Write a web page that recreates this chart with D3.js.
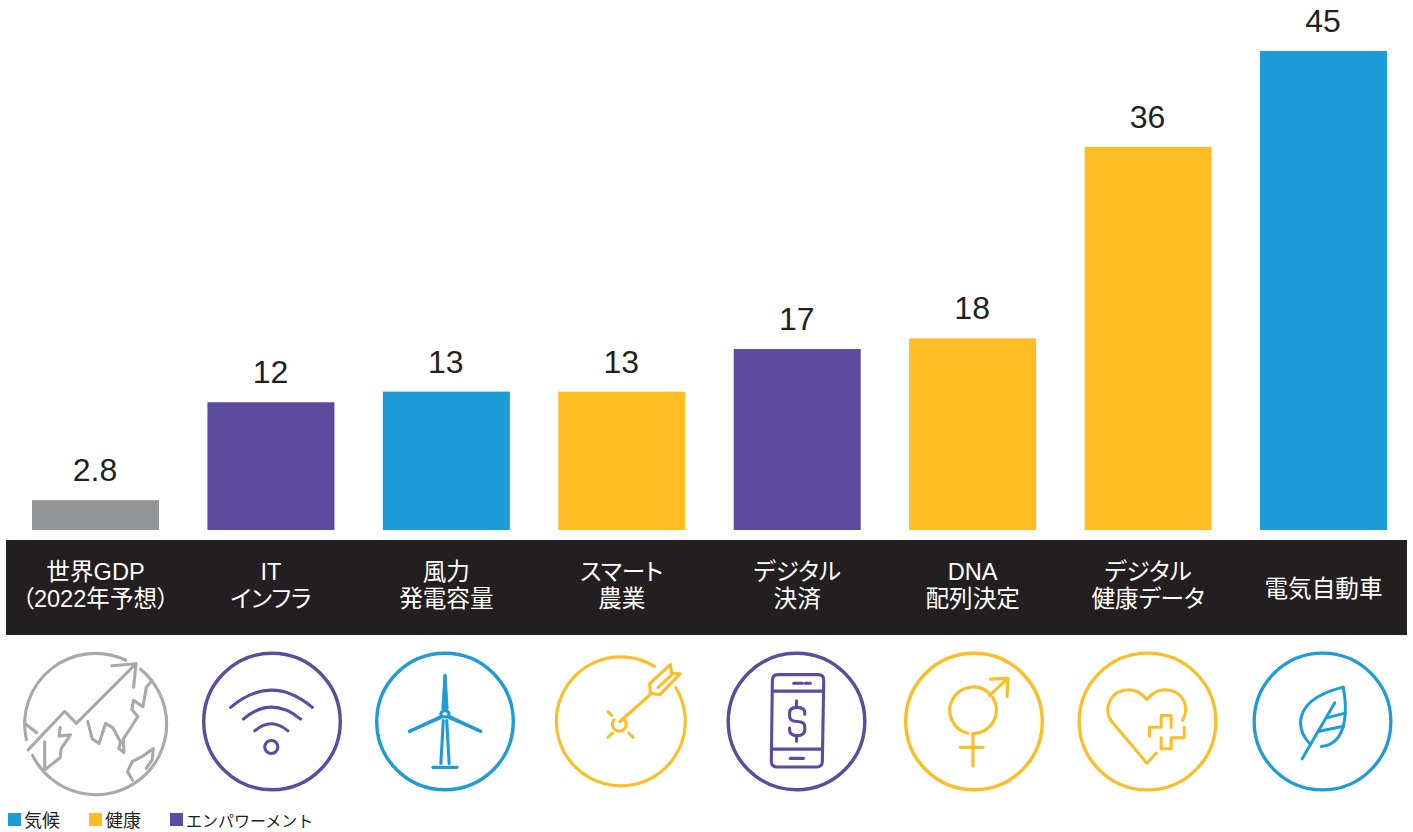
<!DOCTYPE html>
<html><head><meta charset="utf-8">
<script src="https://cdn.jsdelivr.net/npm/d3@7/dist/d3.min.js"></script>
<style>html,body{margin:0;padding:0;background:#fff}svg{display:block}
text{font-family:"Liberation Sans","Noto Sans CJK JP",sans-serif}
.lab{font-feature-settings:"palt"}</style></head>
<body><div id="chart"></div>
<script>
const categories=["世界GDP|（2022年予想）","IT|インフラ","風力|発電容量","スマート|農業","デジタル|決済","DNA|配列決定","デジタル|健康データ","電気自動車"];
const values=[2.8,12,13,13,17,18,36,45];
const valueLabels=["2.8","12","13","13","17","18","36","45"];
const groups=["gdp","emp","climate","health","emp","health","health","climate"];
const legendNames=["気候","健康","エンパワーメント"];
const legendKeys=["climate","health","emp"];
const colors={gdp:"#939598",climate:"#1e9cd7",health:"#fdbe25",emp:"#5b4ca0"};
const iconColors={gdp:"#a7a9ac",climate:"#1e9cd7",health:"#fdbe25",emp:"#5b4ca0"};

const W=1413,H=832;
const svg=d3.select("#chart").append("svg").attr("width",W).attr("height",H).attr("viewBox",`0 0 ${W} ${H}`);
const x=d3.scaleBand().domain(d3.range(categories.length)).range([32,1387]).paddingInner(0.276).paddingOuter(0);
const y=d3.scaleLinear().domain([0,45]).range([530,51]);

svg.append("g").selectAll("rect").data(values).join("rect")
 .attr("x",(d,i)=>x(i)).attr("width",x.bandwidth())
 .attr("y",d=>y(d)).attr("height",d=>y(0)-y(d))
 .attr("fill",(d,i)=>colors[groups[i]]);

svg.append("g").selectAll("text").data(values).join("text")
 .attr("x",(d,i)=>x(i)+x.bandwidth()/2-0.5).attr("y",d=>y(d)-19)
 .attr("text-anchor","middle").attr("font-size",32).attr("fill","#231f20")
 .text((d,i)=>valueLabels[i]);

svg.append("rect").attr("x",6).attr("y",540).attr("width",1401).attr("height",95).attr("fill","#231f20");
const lab=svg.append("g").selectAll("text").data(categories).join("text")
 .attr("class","lab").attr("text-anchor","middle").attr("font-size",23.6).attr("fill","#fff")
 .attr("transform",(d,i)=>`translate(${x(i)+x.bandwidth()/2},0)`);
lab.each(function(d){
  const parts=d.split("|");const t=d3.select(this);
  const ys=parts.length===2?[580,607]:[597];
  parts.forEach((p,k)=>t.append("tspan").attr("x",0).attr("y",ys[k]).text(p));
});

/* Icons: outlines in their own drawing units, placed by a centre and a scale */
const icons=[
 {c:[276,244],s:1/2.9,p:[
  "M365,62 A205,205 0 0 0 77,292","M95,338 A205,205 0 1 0 408,88",
  "M82,322 L188,210 L222,245 L395,72","M325,78 L395,72 L388,140",
  "M72,245 L107,272","M130,298 L130,380 L175,345 L178,318 L205,278 L172,282 L175,257",
  "M255,240 L268,290 L288,303 L307,245 L328,258 L350,300 L345,318 L360,330 L358,290 L375,265 L400,225 L383,205 L388,178 L415,197 L425,140 L440,122",
  "M385,410 L370,385 L385,355 L415,340 L445,318 L442,350 L425,375"],sw:9},
 {c:[790,244],s:1/2.9,circle:198,p:[
  "M670,203 Q788,103 907,203","M707,237 Q788,168 873,237","M740,271 Q788,230 836,271",
  "M807,318 A19,19 0 1 1 769,318 A19,19 0 1 1 807,318"],sw:9},
 {c:[1293,243],s:1/2.9,circle:198,p:[
  "M1293,110 L1293,205","M1287,205 L1293,110 L1299,205 Z",
  "M1190,272 L1282,228","M1397,272 L1305,228","M1192,270 L1280,232","M1395,270 L1306,232",
  "M1305,221 A12,9 0 1 1 1281,221 A12,9 0 1 1 1305,221",
  "M1281,365 L1288,240","M1305,365 L1298,240","M1258,376 H1328"],sw:9},
 {c:[265,240],s:1/2.9,p:[
  "M362,80 A187,187 0 1 0 424,142",
  "M262,240 L352,160","M348,130 L408,75 L412,100 L436,102 L378,162 L350,158 Z","M372,142 L412,105",
  "M272,232 A20,20 0 1 1 245,235","M227,212 L238,222","M227,286 L240,274","M288,274 L300,286"],sw:9},
 {c:[773,243],s:1/2.9,circle:198,p:[
  "M718,107 H835 Q853,107 852,125 L848,358 Q848,376 830,375 H718 Q700,375 700,358 L703,125 Q703,107 718,107 Z",
  "M705,155 H850","M703,323 H848","M765,132 H790","M798,132 H813","M755,350 H793",
  "M773,183 V200","M773,285 V300",
  "M797,222 V218 Q797,202 775,202 Q753,202 753,218 V228 Q753,243 775,243 Q797,243 797,258 V268 Q797,284 775,284 Q753,284 753,268 V262"],sw:9},
 {c:[1290,243],s:1/2.9,circle:198,p:[
  "M1272,277 A68,68 0 1 1 1336,163","M1344,173 A68,68 0 0 1 1287,278",
  "M1287,278 V372","M1250,318 H1316","M1335,168 L1388,118","M1338,120 L1388,118 L1386,170"],sw:9},
 {c:[262,243],s:1/3,circle:205,p:[
  "M288,338 L260,368 L152,240 C130,205 148,150 205,148 C230,148 250,165 260,177 C272,163 290,148 315,148 C370,150 390,200 367,240",
  "M268,288 V260 H303 V225 H333 V260","M372,260 V292 H333 V325 H303 V292"],sw:9},
 {c:[788,243],s:1/3,circle:205,p:[
  "M850,140 C790,155 725,185 722,245 C722,275 740,300 752,312","M850,140 C860,190 870,310 785,318",
  "M727,355 L825,187","M800,232 L856,218","M778,272 L852,257"],sw:9}
];
const iconCenters=[[95,723],[272,721.5],[445,721.5],[621,721.5],[796.5,721.5],[974,721.5],[1147.5,721.5],[1322.5,721.5]];
const ig=svg.append("g").attr("fill","none").attr("stroke-linecap","round").attr("stroke-linejoin","round");
icons.forEach((ic,i)=>{
  const g=ig.append("g").attr("stroke",iconColors[groups[i]])
   .attr("transform",`translate(${iconCenters[i][0]},${iconCenters[i][1]}) scale(${ic.s}) translate(${-ic.c[0]},${-ic.c[1]})`)
   .attr("stroke-width",ic.sw);
  if(ic.circle) g.append("circle").attr("cx",ic.c[0]).attr("cy",ic.c[1]).attr("r",ic.circle).attr("stroke-width",ic.sw+1);
  ic.p.forEach(d=>g.append("path").attr("d",d));
});

/* Legend */
const legX=[8,89,170];
const leg=svg.append("g").selectAll("g").data(legendKeys).join("g").attr("transform",(d,i)=>`translate(${legX[i]},813)`);
leg.append("rect").attr("width",13).attr("height",13).attr("fill",d=>colors[d]);
leg.append("text").attr("x",16).attr("y",14).attr("font-size",(d,i)=>i<2?18:16).attr("fill","#231f20").text((d,i)=>legendNames[i]);
</script></body></html>
